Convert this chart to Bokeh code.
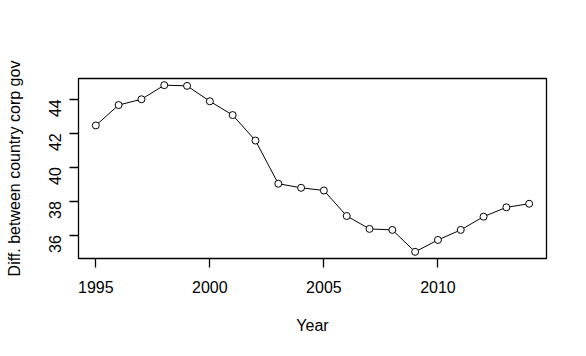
import math
from bokeh.plotting import figure
from bokeh.models import Range1d, FixedTicker
from bokeh.embed import file_html
from bokeh.resources import INLINE

years = [1995, 1996, 1997, 1998, 1999, 2000, 2001, 2002, 2003, 2004,
         2005, 2006, 2007, 2008, 2009, 2010, 2011, 2012, 2013, 2014]
diff = [42.46, 43.66, 44.00, 44.83, 44.79, 43.88, 43.07, 41.57, 39.03, 38.79,
        38.63, 37.13, 36.37, 36.31, 35.02, 35.72, 36.31, 37.09, 37.64, 37.85]
x_ticks = [1995, 2000, 2005, 2010]
y_ticks = [36, 38, 40, 42, 44]
x_title = "Year"
y_title = "Diff. between country corp gov"

def padded(vals):
    lo, hi = min(vals), max(vals)
    d = (hi - lo) * 0.04
    return lo - d, hi + d

FONT = "Liberation Sans"

p = figure(width=586, height=356, output_backend="svg", toolbar_location=None,
           min_border_left=78, min_border_right=40, min_border_top=78, min_border_bottom=98,
           x_range=Range1d(*padded(years)), y_range=Range1d(*padded(diff)))

p.background_fill_color = "white"
p.border_fill_color = "white"
p.outline_line_color = "black"
p.outline_line_width = 1.3
p.grid.visible = False

p.line(years, diff, line_color="black", line_width=1)
p.scatter(years, diff, size=7, marker="circle", fill_color="white",
          line_color="black", line_width=1)

for ax in (p.xaxis[0], p.yaxis[0]):
    ax.axis_line_color = None
    ax.minor_tick_line_color = None
    ax.major_tick_in = 0
    ax.major_tick_out = 9
    ax.major_tick_line_color = "black"
    ax.major_tick_line_width = 1.3
    ax.major_label_text_font = FONT
    ax.major_label_text_font_size = "16px"
    ax.major_label_text_color = "black"
    ax.axis_label_text_font = FONT
    ax.axis_label_text_font_size = "16px"
    ax.axis_label_text_font_style = "normal"
    ax.axis_label_text_color = "black"

p.xaxis[0].ticker = FixedTicker(ticks=x_ticks)
p.yaxis[0].ticker = FixedTicker(ticks=y_ticks)
p.xaxis[0].axis_label = x_title
p.yaxis[0].axis_label = y_title
p.xaxis[0].major_label_standoff = 13
p.xaxis[0].axis_label_standoff = 21
p.yaxis[0].major_label_orientation = math.pi / 2
p.yaxis[0].major_label_standoff = 14
p.yaxis[0].axis_label_standoff = 18

open("out.html", "w").write(file_html(p, INLINE))
